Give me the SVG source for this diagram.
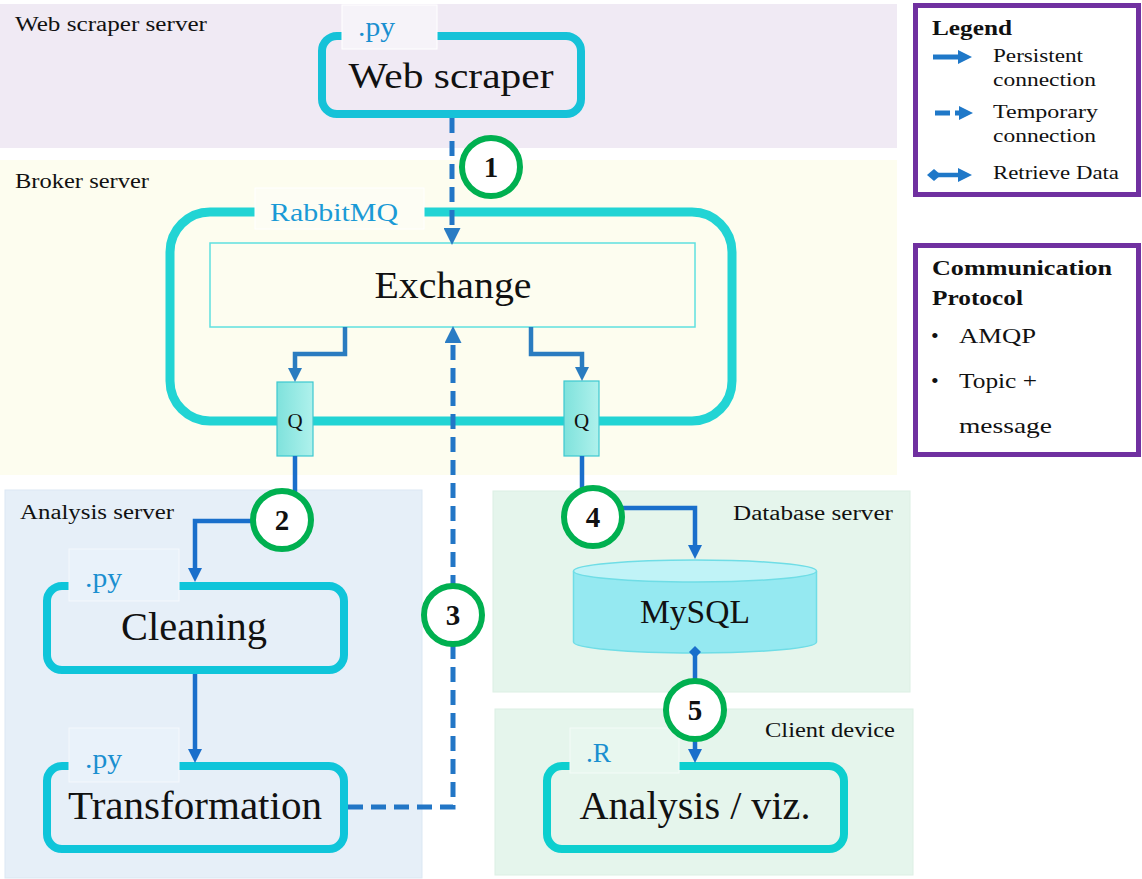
<svg xmlns="http://www.w3.org/2000/svg" width="1142" height="879" viewBox="0 0 1142 879">
<style>
text{font-family:"Liberation Serif","DejaVu Serif",serif;fill:#111}
.region-label{font-size:20px}
.big{font-size:39px;text-anchor:middle}
.ext{font-size:28px;fill:#1a8fd0}
.leg{font-size:19px}
.legb{font-size:22px;font-weight:bold}
.num{font-size:29px;font-weight:bold;text-anchor:middle}
.proc{fill:none;stroke-width:8}
.step{fill:#fff;stroke:#00b050;stroke-width:6}
.solid{fill:none;stroke:#1a6fcb;stroke-width:4.5}
.solid2{fill:none;stroke:#2a7cc0;stroke-width:4.5}
.dash{fill:none;stroke:#2276c6;stroke-width:5;stroke-dasharray:15 8}
.box{fill:none;stroke:#7030a0;stroke-width:5}
</style>
<defs>
<marker id="arr" viewBox="0 0 14 14" refX="6" refY="7" markerWidth="14" markerHeight="14" markerUnits="userSpaceOnUse" orient="auto"><path d="M0,0 L14,7 L0,14 z" fill="#1a6fcb"/></marker>
<marker id="arr2" viewBox="0 0 14 14" refX="6" refY="7" markerWidth="14" markerHeight="14" markerUnits="userSpaceOnUse" orient="auto"><path d="M0,0 L14,7 L0,14 z" fill="#2a7cc0"/></marker>
<marker id="arrbig" viewBox="0 0 17 17" refX="7" refY="8.5" markerWidth="17" markerHeight="17" markerUnits="userSpaceOnUse" orient="auto"><path d="M0,0 L17,8.5 L0,17 z" fill="#2a7cc4"/></marker>
<marker id="dia" viewBox="0 0 12 12" refX="6" refY="6" markerWidth="12" markerHeight="12" markerUnits="userSpaceOnUse" orient="auto"><path d="M0,6 L6,0 L12,6 L6,12 z" fill="#1a6fcb"/></marker>
<linearGradient id="qg" x1="0" y1="0" x2="1" y2="0"><stop offset="0" stop-color="#7fe2dc"/><stop offset="1" stop-color="#aff1ec"/></linearGradient>
</defs>

<rect width="1142" height="879" fill="#fff"/>

<g id="regions">
<rect id="web-scraper-server" x="0" y="4" width="897" height="144" fill="#f0eaf4"/>
<rect id="broker-server" x="0" y="160" width="897" height="315" fill="#fdfdef"/>
<rect id="analysis-server" x="5" y="490" width="417" height="388" fill="#e6eff8" stroke="#dbe7f3"/>
<rect id="database-server" x="493" y="491" width="417" height="201" fill="#e5f5ec" stroke="#dcefe4"/>
<rect id="client-device" x="495" y="709" width="418" height="166" fill="#e5f5ec" stroke="#dcefe4"/>
<text class="region-label" x="15" y="31" textLength="192" lengthAdjust="spacingAndGlyphs">Web scraper server</text>
<text class="region-label" x="15" y="188" textLength="134" lengthAdjust="spacingAndGlyphs">Broker server</text>
<text class="region-label" x="20" y="519" textLength="154" lengthAdjust="spacingAndGlyphs">Analysis server</text>
<text class="region-label" x="733" y="520" textLength="160" lengthAdjust="spacingAndGlyphs">Database server</text>
<text class="region-label" x="765" y="737" textLength="130" lengthAdjust="spacingAndGlyphs">Client device</text>
</g>

<g id="rabbitmq">
<rect x="170" y="212" width="562" height="209" rx="40" fill="none" stroke="#22d4d4" stroke-width="9"/>
<rect x="255" y="188" width="169" height="41" fill="#fdfdf4" stroke="#ffffff"/>
<text x="270" y="221" font-size="26" style="fill:#1a9ad6" textLength="128" lengthAdjust="spacingAndGlyphs">RabbitMQ</text>
</g>

<g id="exchange">
<rect x="210" y="243" width="485" height="84" fill="#fdfdf0" stroke="#5fe0e0" stroke-width="1.5"/>
<text class="big" x="453" y="298" style="font-size:38px" textLength="157" lengthAdjust="spacingAndGlyphs">Exchange</text>
</g>

<g id="queue-left">
<rect x="277" y="382" width="36" height="74" fill="url(#qg)" stroke="#3cc8d0" stroke-width="1.2"/>
<text x="295" y="428" font-size="21" text-anchor="middle">Q</text>
</g>
<g id="queue-right">
<rect x="564" y="381" width="35" height="75" fill="url(#qg)" stroke="#3cc8d0" stroke-width="1.2"/>
<text x="581.5" y="428" font-size="21" text-anchor="middle">Q</text>
</g>

<g id="web-scraper">
<rect class="proc" x="322" y="36" width="259" height="78" rx="15" stroke="#16c2d8"/>
<rect x="342" y="5" width="95" height="44" fill="#f6f3f9" stroke="#ffffff"/>
<text class="ext" x="358" y="36" textLength="37" lengthAdjust="spacingAndGlyphs">.py</text>
<text class="big" x="451" y="88" style="font-size:36px" textLength="205" lengthAdjust="spacingAndGlyphs">Web scraper</text>
</g>

<g id="cleaning">
<rect class="proc" x="47" y="586" width="297" height="84" rx="15" stroke="#0fc5da"/>
<rect x="69" y="549" width="110" height="52" fill="#e9f2fa" stroke="#f4f8fc"/>
<text class="ext" x="85" y="587" textLength="37" lengthAdjust="spacingAndGlyphs">.py</text>
<text class="big" x="194" y="640" style="font-size:40px" textLength="146" lengthAdjust="spacingAndGlyphs">Cleaning</text>
</g>

<g id="transformation">
<rect class="proc" x="47" y="766" width="297" height="83" rx="15" stroke="#0fc5da"/>
<rect x="69" y="728" width="110" height="54" fill="#e9f2fa" stroke="#f4f8fc"/>
<text class="ext" x="85" y="768" textLength="37" lengthAdjust="spacingAndGlyphs">.py</text>
<text class="big" x="195" y="819" textLength="254" lengthAdjust="spacingAndGlyphs">Transformation</text>
</g>

<g id="mysql">
<path d="M573.5,571 V642 A121.5,11 0 0 0 816.5,642 V571" fill="#95e9f1" stroke="#6fdde6" stroke-width="1.5"/>
<ellipse cx="695" cy="571" rx="121.5" ry="11" fill="#c0f3f7" stroke="#6fdde6" stroke-width="1.5"/>
<text class="big" x="695" y="623" style="font-size:34px" textLength="110" lengthAdjust="spacingAndGlyphs">MySQL</text>
</g>

<g id="analysis-viz">
<rect class="proc" x="547" y="766" width="297" height="83" rx="15" stroke="#0dcfcf"/>
<rect x="570" y="728" width="109" height="45" fill="#e8f7ef" stroke="#f4fbf7"/>
<text class="ext" x="586" y="762" textLength="25" lengthAdjust="spacingAndGlyphs">.R</text>
<text class="big" x="695" y="819" textLength="231" lengthAdjust="spacingAndGlyphs">Analysis / viz.</text>
</g>

<g id="connectors">
<path class="dash" d="M452,118 V235" marker-end="url(#arrbig)"/>
<path class="solid2" d="M345,327 V354 H295 V374" marker-end="url(#arr2)"/>
<path class="solid2" d="M531,327 V354 H582 V373" marker-end="url(#arr2)"/>
<path class="solid" d="M295,456 V521 H195 V574" marker-end="url(#arr)"/>
<path class="solid" d="M582,456 V508 H695 V551" marker-end="url(#arr)"/>
<path class="solid" d="M195,674 V755" marker-end="url(#arr)"/>
<path class="dash" d="M348,807 H453 V336" marker-end="url(#arrbig)"/>
<path class="solid" d="M695,652 V755" marker-start="url(#dia)" marker-end="url(#arr)"/>
</g>

<g id="steps">
<g id="step-1"><circle class="step" cx="491" cy="167" r="29"/><text class="num" x="491" y="177">1</text></g>
<g id="step-2"><circle class="step" cx="282" cy="520" r="29"/><text class="num" x="282" y="530">2</text></g>
<g id="step-3"><circle class="step" cx="453" cy="615" r="29"/><text class="num" x="453" y="625">3</text></g>
<g id="step-4"><circle class="step" cx="593" cy="517" r="29"/><text class="num" x="593" y="527">4</text></g>
<g id="step-5"><circle class="step" cx="695" cy="710" r="29"/><text class="num" x="695" y="720">5</text></g>
</g>

<g id="legend">
<rect class="box" x="915.5" y="5.5" width="223" height="189" fill="#fff"/>
<text class="legb" x="932" y="35" textLength="80" lengthAdjust="spacingAndGlyphs">Legend</text>
<path d="M933,57 H960" stroke="#1f78c8" stroke-width="5" fill="none"/>
<path d="M958,50 L972,57 L958,64 z" fill="#1f78c8"/>
<text class="leg" x="993" y="62" textLength="90" lengthAdjust="spacingAndGlyphs">Persistent</text>
<text class="leg" x="993" y="86" textLength="103" lengthAdjust="spacingAndGlyphs">connection</text>
<path d="M935,113 H950 M955,113 H962" stroke="#1f78c8" stroke-width="5" fill="none"/>
<path d="M959,106 L973,113 L959,120 z" fill="#1f78c8"/>
<text class="leg" x="993" y="118" textLength="105" lengthAdjust="spacingAndGlyphs">Temporary</text>
<text class="leg" x="993" y="142" textLength="103" lengthAdjust="spacingAndGlyphs">connection</text>
<path d="M927,175 L934,169 L941,175 L934,181 z" fill="#1f78c8"/>
<path d="M938,175 H960" stroke="#1f78c8" stroke-width="4.5" fill="none"/>
<path d="M958,168 L972,175 L958,182 z" fill="#1f78c8"/>
<text class="leg" x="993" y="179" textLength="126" lengthAdjust="spacingAndGlyphs">Retrieve Data</text>
</g>

<g id="protocol">
<rect class="box" x="915.5" y="245.5" width="223" height="209" fill="#fff"/>
<text class="legb" x="932" y="275" textLength="180" lengthAdjust="spacingAndGlyphs">Communication</text>
<text class="legb" x="932" y="305" textLength="91" lengthAdjust="spacingAndGlyphs">Protocol</text>
<text x="931" y="343" font-size="22">•</text>
<text x="959" y="343" font-size="22" textLength="77" lengthAdjust="spacingAndGlyphs">AMQP</text>
<text x="931" y="388" font-size="22">•</text>
<text x="959" y="388" font-size="22" textLength="78" lengthAdjust="spacingAndGlyphs">Topic +</text>
<text x="959" y="433" font-size="22" textLength="93" lengthAdjust="spacingAndGlyphs">message</text>
</g>
</svg>
